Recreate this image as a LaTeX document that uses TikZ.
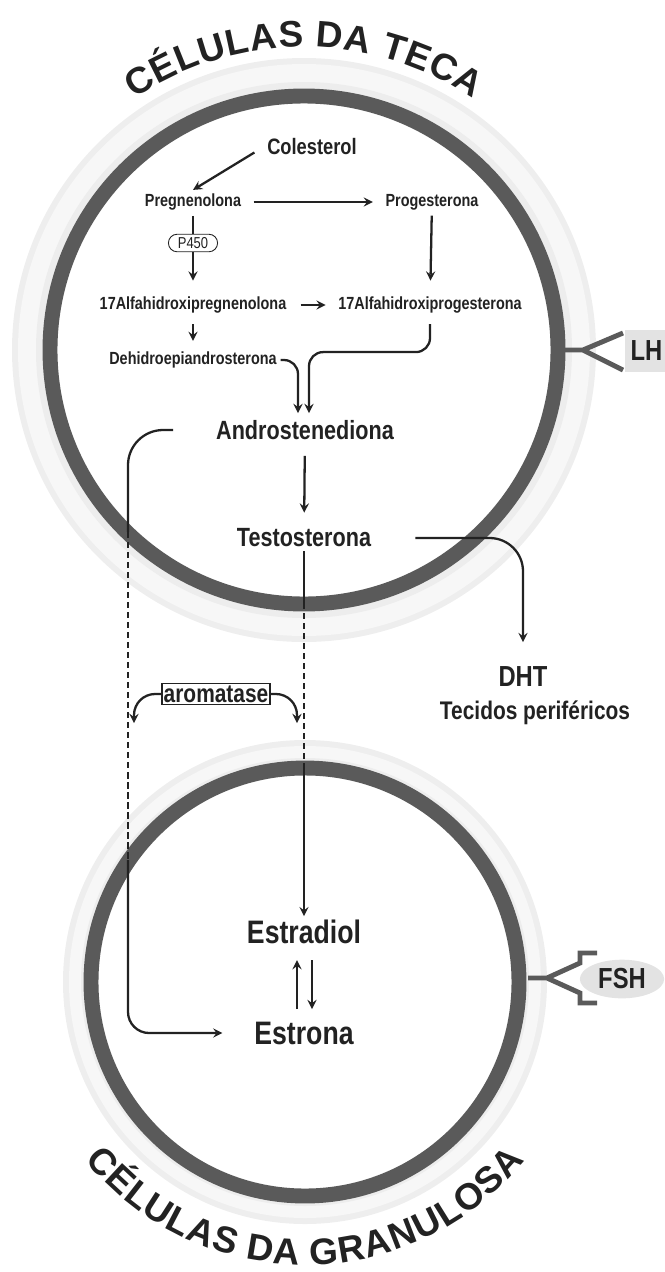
\documentclass[tikz,border=0pt]{standalone}
\usepackage{fontspec}
\setmainfont{Liberation Sans}[FakeStretch=0.82]
\newfontfamily\titlefam{Liberation Sans}
\usetikzlibrary{decorations.text,shapes.geometric}
\definecolor{ink}{HTML}{222222}
\definecolor{ringgray}{HTML}{5A5A5A}
\newcommand{\fsmall}{\bfseries\fontsize{10}{12}\selectfont}
\newcommand{\fcol}{\bfseries\fontsize{12.7}{15}\selectfont}
\newcommand{\fbig}{\bfseries\fontsize{15}{18}\selectfont}
\newcommand{\fdht}{\bfseries\fontsize{14.5}{17}\selectfont}
\newcommand{\fhuge}{\bfseries\fontsize{18.5}{22}\selectfont}
\newcommand{\farom}{\bfseries\fontsize{14.5}{17}\selectfont}
\newcommand{\fpfour}{\fontsize{9}{10}\selectfont}
\newcommand{\fhormone}{\bfseries\fontsize{16.5}{19}\selectfont}
\newcommand{\ftitle}{\titlefam\bfseries\fontsize{21}{25}\selectfont}
\newcommand{\fsubtitle}{\titlefam\bfseries\fontsize{21}{25}\selectfont}
\begin{document}
\begin{tikzpicture}
[x=0.02cm,y=-0.02cm,
  textdecorate/.style={text=ink,font=\fsmall,inner sep=2pt},
  arrowdecorate/.style={->,>=stealth,line width=1.3pt,draw=ink},
  linedecorate/.style={line width=1.3pt,draw=ink},
  dashdecorate/.style={line width=1.6pt,draw=ink,dash pattern=on 3.5pt off 2.2pt},
  receptordecorate/.style={line width=2.8pt,draw=ringgray,line join=miter},
  hormonedecorate/.style={fill=gray!22,text=ink,font=\fhormone}]
\useasboundingbox (0,0) rectangle (665,1272);
\clip (0,0) rectangle (665,1272);
% cells
\coordinate (c1) at (304,350);
\coordinate (c2) at (305,982);
\fill[gray!13] (c1) circle (292);
\fill[gray!6] (c1) circle (286);
\fill[gray!14] (c1) circle (268);
\fill[white] (c1) circle (250);
\draw[ringgray,line width=8.5pt] (c1) circle (254);
\fill[gray!13] (c2) circle (242);
\fill[gray!6] (c2) circle (236);
\fill[gray!14] (c2) circle (224);
\fill[white] (c2) circle (210);
\draw[ringgray,line width=8.5pt] (c2) circle (214);
% titles
\path[decorate,decoration={text effects along path,text={CÉLULAS DA TECA},
  text effects/.cd,fit text to path,characters={text along path,font=\ftitle,text=ink}}]
  ([shift={(236:303)}]c1) arc[start angle=236,end angle=304,radius=303];
\path[decorate,decoration={text effects along path,text={CÉLULAS DA GRANULOSA},
  text effects/.cd,fit text to path,characters={text along path,font=\fsubtitle,text=ink}}]
  ([shift={(141:283)}]c2) arc[start angle=141,end angle=39,radius=283];
% receptors
\draw[receptordecorate] (561,350) -- (583,350) -- (623,333) (583,350) -- (623,370);
\node (lh) at (625,351) [hormonedecorate,anchor=west,minimum height=24pt,
  text width=40pt,inner xsep=3pt] {LH};
\draw[receptordecorate] (528,978) -- (547,978) -- (580,963) -- (580,953) -- (597,953)
  (547,978) -- (580,993) -- (580,1003) -- (597,1003);
\node (fsh) at (622,979) [hormonedecorate,ellipse,minimum width=48pt,
  minimum height=22pt,inner sep=0pt] {FSH};
% nodes
\node (col) at (312,147) [textdecorate,font=\fcol] {Colesterol};
\node (preg) at (193,202) [textdecorate] {Pregnenolona};
\node (prog) at (432,202) [textdecorate] {Progesterona};
\node (ohpreg) at (193,305) [textdecorate] {17Alfahidroxipregnenolona};
\node (ohprog) at (430,305) [textdecorate] {17Alfahidroxiprogesterona};
\node (dhea) at (193,360) [textdecorate] {Dehidroepiandrosterona};
\node (andro) at (305,430) [textdecorate,font=\fbig] {Androstenediona};
\node (testo) at (304,538) [textdecorate,font=\fbig] {Testosterona};
\node (dht) at (523,677) [textdecorate,font=\fhormone] {DHT};
\node (tec) at (535,713) [textdecorate,font=\fdht] {Tecidos periféricos};
\node (e2) at (304,932) [textdecorate,font=\fhuge] {Estradiol};
\node (e1) at (304,1033) [textdecorate,font=\fhuge] {Estrona};
\node (arom) at (216,694) [draw=ink,line width=0.6pt,fill=white,inner sep=1pt,
  text=ink,font=\farom] {aromatase};
% points on the paths
\coordinate (lstart) at (173,430);
\coordinate (lup) at (128,532);
\coordinate (llow) at (128,860);
\coordinate (rup) at (304,603);
\coordinate (rlow) at (304,767);
\coordinate (al) at (134,723);
\coordinate (ar) at (297,723);
\coordinate (a1) at (298,413);
\coordinate (a2) at (309,413);
% edges
\path
(col.west) edge[arrowdecorate,shorten <=6pt] (preg.north)
(preg) edge[arrowdecorate,shorten <=5pt,shorten >=5pt] (prog)
(preg) edge[arrowdecorate,shorten <=1pt,shorten >=7pt] (ohpreg)
(prog) edge[arrowdecorate,shorten <=1pt,shorten >=7pt] (ohprog)
(ohpreg) edge[arrowdecorate,shorten <=6pt,shorten >=5pt] (ohprog)
(ohpreg) edge[arrowdecorate,shorten <=4pt,shorten >=4pt] (dhea)
(andro) edge[arrowdecorate,shorten <=7pt,shorten >=7pt] (testo)
(e1.north -| 297,0) edge[arrowdecorate,shorten <=5pt,shorten >=7pt] (e2.south -| 297,0)
(e2.south -| 312,0) edge[arrowdecorate,shorten <=7pt,shorten >=5pt] (e1.north -| 312,0);
\draw[arrowdecorate,rounded corners=8pt,shorten <=4pt] (ohprog.south) -- ++(0,35) -| (a2);
\draw[arrowdecorate,rounded corners=8pt] (dhea.east) -| (a1);
\draw[linedecorate,rounded corners=20pt] (lstart) -| (lup);
\draw[dashdecorate] (lup) -- (llow);
\draw[arrowdecorate,rounded corners=12pt,shorten >=16pt] (llow) |- (e1.west);
\draw[linedecorate] (testo.south) -- (rup);
\draw[dashdecorate] (rup) -- (rlow);
\draw[arrowdecorate] (rlow) -- (e2.north);
\draw[arrowdecorate,rounded corners=12pt] (arom.west) -| (al);
\draw[arrowdecorate,rounded corners=12pt] (arom.east) -| (ar);
\draw[arrowdecorate,rounded corners=19pt,shorten <=23pt,shorten >=12pt] (testo.east) -| (dht.north);
\node (p450) at (193,243) [draw=ink,line width=0.5pt,rounded corners=5pt,fill=white,
  inner sep=1pt,minimum width=28pt,minimum height=10pt,text=ink,font=\fpfour] {P450};
\end{tikzpicture}
\end{document}
